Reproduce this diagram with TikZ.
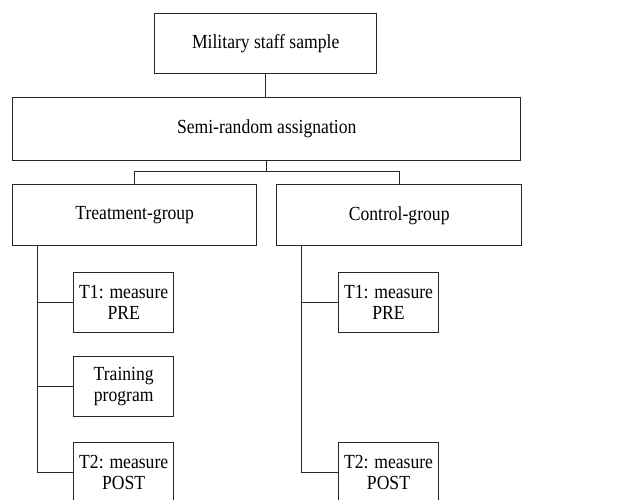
\documentclass[tikz,border=0pt]{standalone}
\usepackage{fontspec}
\setmainfont[FakeStretch=0.88]{Liberation Serif}
\begin{document}
\begin{tikzpicture}[x=1pt,y=-1pt,
  box/.style={draw=black!85, line width=1pt, inner sep=0pt, align=center,
    font=\fontsize{20}{21}\selectfont},
  link/.style={draw=black!85, line width=1pt}]
\useasboundingbox (0,0) rectangle (625,499);
\clip (0,0) rectangle (625,499);
\node[box, minimum width=221.7pt, minimum height=60pt] (mil) at (265.7,43.3) {Military staff sample};
\node[box, minimum width=508pt, minimum height=62.7pt] (semi) at (266.7,128.7) {Semi-random assignation};
\node[box, minimum width=244pt, minimum height=60.7pt] (treat) at (134.7,215.3) {Treatment-group};
\node[box, minimum width=245pt, minimum height=60.7pt] (ctrl) at (399.2,215.3) {Control-group};
\node[box, minimum width=100pt, minimum height=60pt] (t1a) at (123.7,302.3) {T1: measure\\PRE};
\node[box, minimum width=100pt, minimum height=60pt] (train) at (123.7,386.7) {Training\\program};
\node[box, minimum width=100pt, minimum height=60pt] (t2a) at (123.7,472.7) {T2: measure\\POST};
\node[box, minimum width=99.6pt, minimum height=60pt] (t1b) at (388.5,302.3) {T1: measure\\PRE};
\node[box, minimum width=99.6pt, minimum height=60pt] (t2b) at (388.5,472.7) {T2: measure\\POST};
\coordinate (bus) at (266.7,171);
\coordinate (tl) at (37.3,0);
\coordinate (tr) at (301.7,0);
\draw[link] (mil.south) -- (mil.south |- semi.north);
\draw[link] (semi.south) -- (bus) -| (treat.north);
\draw[link] (bus) -| (ctrl.north);
\draw[link] (tl |- treat.south) |- (t2a.west);
\draw[link] (tl |- t1a.west) -- (t1a.west);
\draw[link] (tl |- train.west) -- (train.west);
\draw[link] (tr |- ctrl.south) |- (t2b.west);
\draw[link] (tr |- t1b.west) -- (t1b.west);
\end{tikzpicture}
\end{document}
